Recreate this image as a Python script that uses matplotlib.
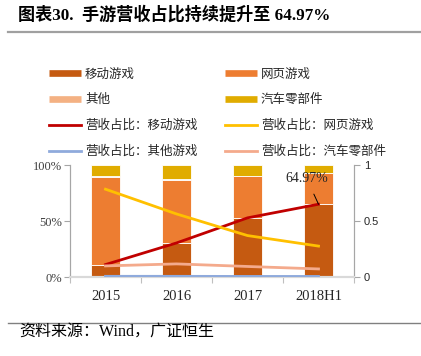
import numpy as np
import matplotlib
matplotlib.use('Agg')
import matplotlib.pyplot as plt
from matplotlib.lines import Line2D

# data (share of revenue)
years = ['2015', '2016', '2017', '2018H1']
mobile = [11.1, 30.4, 52.8, 64.97]
web = [78.4, 56.3, 37.0, 27.6]
other = [0.6, 0.6, 0.5, 0.5]
auto = [9.9, 12.7, 9.7, 6.93]

line_mobile = [0.111, 0.304, 0.528, 0.6497]
line_web = [0.784, 0.563, 0.370, 0.276]
line_other = [0.006, 0.006, 0.005, 0.005]
line_auto = [0.099, 0.117, 0.094, 0.072]

SERIF = ['Liberation Serif', 'Noto Sans CJK SC']
CJK = ['Noto Sans CJK SC', 'Liberation Serif']

c_mobile = '#C55A11'
c_web = '#ED7D31'
c_other = '#F4B183'
c_auto = '#E0AC00'
c_lmob = '#C00000'
c_lweb = '#FFC000'
c_loth = '#8FAADC'
c_laut = '#F4AA8C'

fig = plt.figure(figsize=(4.21, 3.56), dpi=100)
ax = fig.add_axes([70 / 421, 1 - 277 / 356, 284 / 421, 112 / 356])
ax2 = ax.twinx()

x = np.arange(len(years))
w = 0.4
kw = dict(width=w, edgecolor='white', linewidth=0.6, zorder=2)
ax.bar(x, mobile, color=c_mobile, **kw)
b1 = np.array(mobile)
ax.bar(x, web, bottom=b1, color=c_web, **kw)
b2 = b1 + np.array(web)
ax.bar(x, other, bottom=b2, color=c_other, **kw)
b3 = b2 + np.array(other)
ax.bar(x, auto, bottom=b3, color=c_auto, **kw)

ax.set_xlim(-0.5, 3.5)
ax.set_ylim(0, 100)
ax.set_yticks([0, 50, 100])
ax.set_yticklabels(['0%', '50%', '100%'], family=SERIF, fontsize=9, color='#404040')
ax.set_xticks([-0.5, 0.5, 1.5, 2.5, 3.5])
ax.set_xticklabels([])
ax.set_xticks(x, minor=True)
ax.set_xticklabels(years, minor=True, family=SERIF, fontsize=10.5, color='#262626')
ax.tick_params(axis='x', which='major', length=4, color='#BFBFBF', width=0.8)
ax.tick_params(axis='x', which='minor', length=0, pad=9)
ax.tick_params(axis='y', length=4, color='#A6A6A6', width=0.8, pad=2)

ax2.plot(x, line_mobile, color=c_lmob, lw=2.0, zorder=3)
ax2.plot(x, line_web, color=c_lweb, lw=2.0, zorder=3)
ax2.plot(x, line_other, color=c_loth, lw=2.0, zorder=3)
ax2.plot(x, line_auto, color=c_laut, lw=2.0, zorder=3)
ax2.set_ylim(0, 1)
ax2.set_yticks([0, 0.5, 1])
ax2.set_yticklabels(['0', '0.5', '1'], family='Liberation Sans', fontsize=8, color='#262626')
ax2.tick_params(axis='y', length=4, color='#A6A6A6', width=0.8, pad=3)

ax2.annotate('64.97%', xy=(3, line_mobile[3]), xytext=(-8.5, 18.5), textcoords='offset points',
             ha='center', va='center', family=SERIF, fontsize=10, color='#262626',
             arrowprops=dict(arrowstyle='-', color='black', lw=0.7, shrinkA=5, shrinkB=0))

for a in (ax, ax2):
    a.spines['top'].set_visible(False)
    a.spines['left'].set_color('#A6A6A6')
    a.spines['right'].set_color('#A6A6A6')
    a.spines['bottom'].set_color('#D9D9D9')
    a.spines['bottom'].set_linewidth(1.5)
    a.spines['left'].set_linewidth(0.8)
    a.spines['right'].set_linewidth(0.8)
ax.set_zorder(1)
ax2.set_zorder(2)
ax2.patch.set_visible(False)

handles = [
    Line2D([], [], color=c_mobile, lw=4.8, solid_capstyle='butt'),
    Line2D([], [], color=c_other, lw=4.8, solid_capstyle='butt'),
    Line2D([], [], color=c_lmob, lw=2),
    Line2D([], [], color=c_loth, lw=2),
    Line2D([], [], color=c_web, lw=4.8, solid_capstyle='butt'),
    Line2D([], [], color=c_auto, lw=4.8, solid_capstyle='butt'),
    Line2D([], [], color=c_lweb, lw=2),
    Line2D([], [], color=c_laut, lw=2),
]
labels = ['移动游戏', '其他', '营收占比：移动游戏', '营收占比：其他游戏',
          '网页游戏', '汽车零部件', '营收占比：网页游戏', '营收占比：汽车零部件']
leg = fig.legend(handles, labels, ncol=2, loc='upper left', bbox_to_anchor=(49 / 421, 1 - 67.5 / 356),
                 frameon=False, prop={'family': CJK, 'size': 9}, handlelength=2.56,
                 handletextpad=0.32, labelspacing=1.03, columnspacing=2.2, borderpad=0,
                 borderaxespad=0)
for t in leg.get_texts():
    t.set_color('#262626')

fig.text(18 / 421, 1 - 15 / 356, '图表30.  手游营收占比持续提升至 64.97%', family=SERIF,
         fontweight='bold', fontsize=12.3, va='center', ha='left', color='black')
fig.add_artist(Line2D([8 / 421, 1], [1 - 32 / 356] * 2, color='#A0A0A0', lw=1.6))
fig.add_artist(Line2D([8 / 421, 1], [1 - 322.5 / 356] * 2, color='#808080', lw=1.0))
fig.text(19 / 421, 1 - 333 / 356, '资料来源：Wind，广证恒生', family=SERIF, fontsize=11.5,
         va='center', ha='left', color='black')

fig.savefig('out.png', dpi=100)
